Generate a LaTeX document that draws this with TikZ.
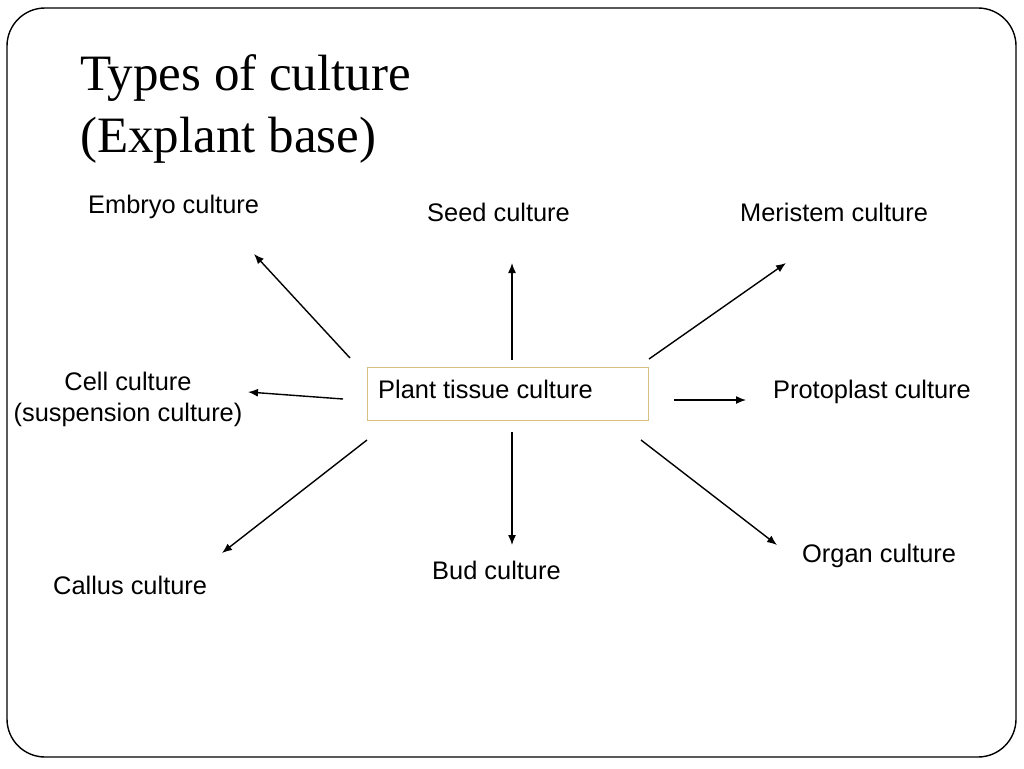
\documentclass[tikz,border=0pt]{standalone}
\usepackage{fontspec}
\setmainfont{Liberation Sans}
\newfontfamily\titlefont{Liberation Serif}
\usetikzlibrary{arrows.meta}
\definecolor{boxtan}{RGB}{214,192,130}
\begin{document}
\begin{tikzpicture}[x=1pt,y=-1pt,
  lbl/.style={anchor=base west,inner sep=0pt,font=\fontsize{25.4}{30}\selectfont},
  clbl/.style={anchor=base,inner sep=0pt,font=\fontsize{25.4}{30}\selectfont},
  ttl/.style={anchor=base west,inner sep=0pt,font=\titlefont\fontsize{51}{60}\selectfont},
  arr/.style={line width=1.4pt,-{Latex[length=10pt,width=8pt]}},
  frame/.style={line width=1.4pt,rounded corners=38pt}]
\useasboundingbox (0,0) rectangle (1024,768);
\draw[frame] (7,8) rectangle (1016,757);
% title
\node[ttl] (t1) at (80,90) {Types of culture};
\node[ttl] (t2) at (80,152) {(Explant base)};
% central box
\node[draw=boxtan,line width=1.2pt,anchor=north west,minimum width=281pt,minimum height=53pt,inner sep=0pt] (box) at (367,367) {};
\node[lbl] (ptc) at (378,398) {Plant tissue culture};
% labels
\node[lbl] (embryo) at (88,213) {Embryo culture};
\node[lbl] (seed) at (427,221) {Seed culture};
\node[lbl] (meri) at (740,221) {Meristem culture};
\node[clbl] (cell1) at (128,390) {Cell culture};
\node[clbl] (cell2) at (128,421) {(suspension culture)};
\node[lbl] (proto) at (773,398) {Protoplast culture};
\node[lbl] (callus) at (53,594) {Callus culture};
\node[lbl] (bud) at (432,579) {Bud culture};
\node[lbl] (organ) at (802,562) {Organ culture};
% arrow ends
\coordinate (eT) at (350,358); \coordinate (eH) at (254,254);
\coordinate (sT) at (512,360); \coordinate (sH) at (512,263);
\coordinate (mT) at (649,359); \coordinate (mH) at (786,263);
\coordinate (cT) at (343,399); \coordinate (cH) at (248,392);
\coordinate (pT) at (674,400); \coordinate (pH) at (746,400);
\coordinate (kT) at (367,440); \coordinate (kH) at (222,553);
\coordinate (bT) at (512,432); \coordinate (bH) at (512,545);
\coordinate (oT) at (641,440); \coordinate (oH) at (777,545);
\draw[arr] (eT) -- (eH);
\draw[arr] (sT) -- (sH);
\draw[arr] (mT) -- (mH);
\draw[arr] (cT) -- (cH);
\draw[arr] (pT) -- (pH);
\draw[arr] (kT) -- (kH);
\draw[arr] (bT) -- (bH);
\draw[arr] (oT) -- (oH);
\end{tikzpicture}
\end{document}
